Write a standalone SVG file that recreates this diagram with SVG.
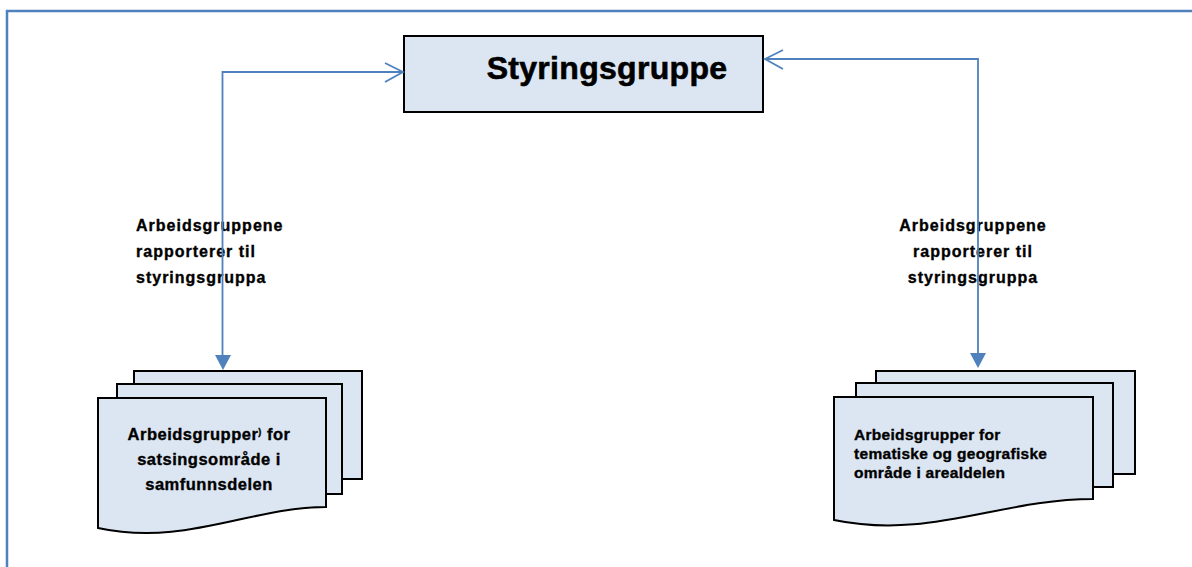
<svg xmlns="http://www.w3.org/2000/svg" width="1192" height="567" viewBox="0 0 1192 567">
<style>
.frame{fill:none;stroke:#4f81bd;stroke-width:2.5}
.box{fill:#dce6f2;stroke:#000;stroke-width:2}
.conn{fill:none;stroke:#4f81bd;stroke-width:1.8}
.head{fill:#4f81bd;stroke:none}
.t{font-family:"Liberation Sans",Arial,sans-serif;font-weight:bold;fill:#000;stroke:#000;stroke-width:0.35}
.title{font-size:32px;letter-spacing:0.3px;stroke-width:0.6}
.lbl{font-size:16px;letter-spacing:1px}
.doc1{font-size:16.5px;letter-spacing:0.5px}
.doc2{font-size:15.5px;letter-spacing:0.3px}
</style>
<rect width="1192" height="567" fill="#fff"/>
<path class="frame" d="M7,567 V11 H1192"/>

<g id="label-left">
<text class="t lbl" x="136" y="231">Arbeidsgruppene</text>
<text class="t lbl" x="136" y="257">rapporterer til</text>
<text class="t lbl" x="136" y="283">styringsgruppa</text>
</g>
<g id="label-right">
<text class="t lbl" x="973" y="231" text-anchor="middle">Arbeidsgruppene</text>
<text class="t lbl" x="973" y="257" text-anchor="middle">rapporterer til</text>
<text class="t lbl" x="973" y="283" text-anchor="middle">styringsgruppa</text>
</g>

<g id="styringsgruppe">
<rect class="box" x="404" y="36" width="359" height="76"/>
<text class="t title" x="607" y="79" text-anchor="middle">Styringsgruppe</text>
</g>

<g id="arbeidsgrupper-samfunnsdelen">
<rect class="box" x="134" y="371" width="228" height="108"/>
<rect class="box" x="117" y="384" width="225" height="110"/>
<path class="box" d="M98,398 H326 V507 C250,507 185,547 98,528 Z"/>
<text class="t doc1" x="209" y="440" text-anchor="middle">Arbeidsgrupper<tspan font-size="9" dy="-5">)</tspan><tspan dy="5"> for</tspan></text>
<text class="t doc1" x="209" y="465" text-anchor="middle">satsingsområde i</text>
<text class="t doc1" x="209" y="490" text-anchor="middle">samfunnsdelen</text>
</g>

<g id="arbeidsgrupper-arealdelen">
<rect class="box" x="876" y="371" width="259" height="103"/>
<rect class="box" x="856" y="383" width="257" height="104"/>
<path class="box" d="M834,397 H1093 V499 C1000,499 930,540 834,520 Z"/>
<text class="t doc2" x="854" y="440">Arbeidsgrupper for</text>
<text class="t doc2" x="854" y="459">tematiske og geografiske</text>
<text class="t doc2" x="854" y="478">område i arealdelen</text>
</g>

<g id="connectors">
<path class="conn" d="M403,72 H222.5 V356"/>
<path class="conn" d="M385,63 L403,72 L385,82"/>
<polygon class="head" points="215,355 231,355 223,370"/>
<path class="conn" d="M765,59 H978 V354"/>
<path class="conn" d="M783,50 L765,59 L783,69"/>
<polygon class="head" points="970,353 986,353 978,368"/>
</g>
</svg>
